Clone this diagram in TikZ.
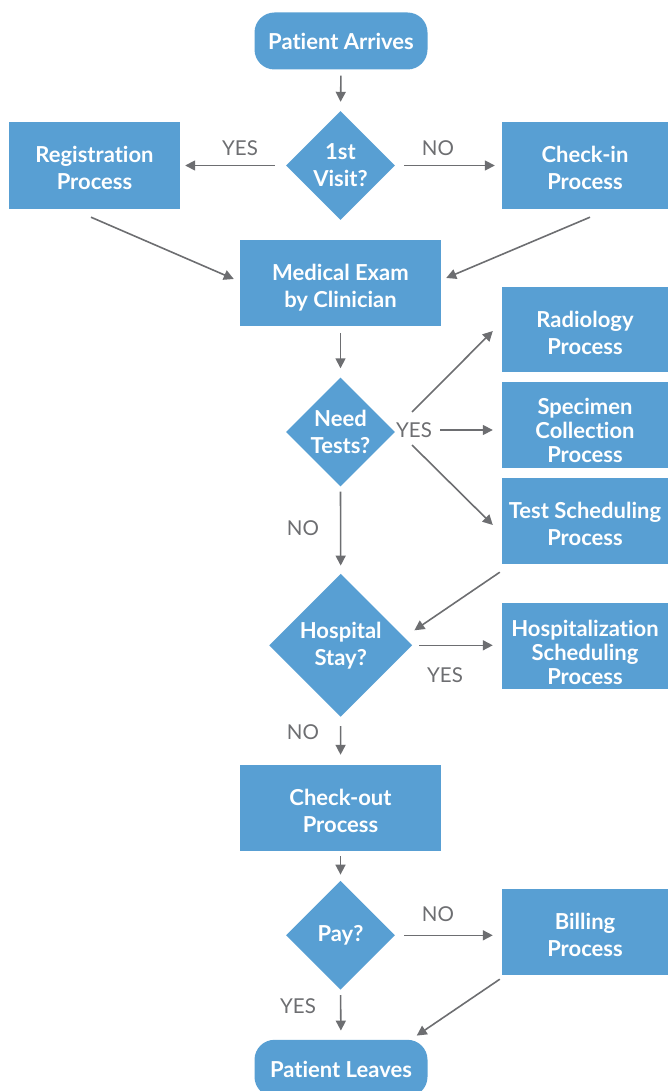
\documentclass[tikz,border=0pt]{standalone}
\usepackage{fontspec}
\setmainfont{Lato}[Ligatures=NoCommon]
\usetikzlibrary{shapes.geometric,arrows.meta,calc}
\definecolor{boxblue}{HTML}{589FD3}
\definecolor{linegray}{HTML}{6D6E71}
\begin{document}
\begin{tikzpicture}[x=1pt,y=-1pt,
  boxfont/.style={font=\bfseries\fontsize{22}{27}\selectfont},
  boxfontthree/.style={font=\bfseries\fontsize{22}{24}\selectfont, text height=81pt, text depth=5pt},
  proc/.style={fill=boxblue, text=white, boxfont, align=center, inner sep=0pt,
    minimum width=166pt, minimum height=86pt, text height=54pt, text depth=5pt},
  term/.style={proc, rounded corners=20pt, minimum width=173pt, minimum height=57pt,
    text height=20pt, text depth=2pt},
  dec/.style={diamond, aspect=1, fill=boxblue, text=white, boxfont, align=center, inner sep=0pt},
  arr/.style={draw=linegray, line width=1.6pt, -{Triangle[length=10pt,width=10pt]}},
  lab/.style={text=linegray, font=\fontsize{20.5}{22}\selectfont, inner sep=0pt}]
\useasboundingbox (0,0) rectangle (668,1091);

% nodes
\node[term] (start) at (341,41) {Patient Arrives};
\node[dec, minimum size=109pt] (d1) at (340.5,165.5) {1st\\Visit?};
\node[proc, minimum width=171pt, minimum height=87pt] (reg) at (94.5,165.5) {Registration\\Process};
\node[proc, minimum height=87pt] (chk) at (585,165.5) {Check-in\\Process};
\node[proc, minimum width=201pt] (exam) at (340.5,283) {Medical Exam\\by Clinician};
\node[dec, minimum size=109pt] (d2) at (340.5,432) {Need\\Tests?};
\node[proc, minimum height=85pt] (rad) at (585,329.5) {Radiology\\Process};
\node[proc, boxfontthree, minimum height=85pt] (spec) at (585,424.5) {Specimen\\Collection\\Process};
\node[proc] (tsch) at (585,521) {Test Scheduling\\Process};
\node[dec, minimum size=143pt] (d3) at (340.7,645.3) {Hospital\\Stay?};
\node[proc, boxfontthree] (hosp) at (585,646) {Hospitalization\\Scheduling\\Process};
\node[proc, minimum width=201pt] (out) at (340.5,808) {Check-out\\Process};
\node[dec, minimum size=109pt] (d4) at (340.5,935.3) {Pay?};
\node[proc] (bill) at (585,932) {Billing\\Process};
\node[term] (end) at (341,1068.3) {Patient Leaves};

% labels
\node[lab] (yes1) at (240,148) {YES};
\node[lab] (no1) at (438,148) {NO};
\node[lab] (yes2) at (414,430) {YES};
\node[lab] (no2) at (303,528) {NO};
\node[lab] (yes3) at (445,675) {YES};
\node[lab] (no3) at (303,732) {NO};
\node[lab] (no4) at (438,914) {NO};
\node[lab] (yes4) at (298,1006) {YES};

% connectors
\draw[arr, shorten <=6pt, shorten >=9pt] (start.south) -- (d1.north);
\draw[arr, shorten <=11pt, shorten >=5pt] (d1.west) -- (d1.west -| reg.east);
\draw[arr, shorten <=9pt, shorten >=7pt] (d1.east) -- (d1.east -| chk.west);
\draw[arr] ($(reg.south)+(-3.5,8)$) -- ($(exam.west)+(-6,-4)$);
\draw[arr] ($(chk.south)+(5,8)$) -- ($(exam.east)+(5,-5)$);
\draw[arr, shorten <=7pt, shorten >=9pt] (exam.south) -- (d2.north);
\draw[arr] ($(yes2)+(-2,-18)$) -- ($(rad.west)+(-9,1.5)$);
\draw[arr] ($(yes2)+(26,0)$) -- ($(yes2 -| spec.west)+(-9,0)$);
\draw[arr] ($(yes2)+(-2,15)$) -- ($(tsch.west)+(-9,4)$);
\draw[arr, shorten <=5pt, shorten >=8pt] (d2.south) -- (d3.north);
\draw[arr] ($(tsch.south west)+(-2,8)$) -- ($(d3.east)+(2,-15)$);
\draw[arr, shorten <=7pt, shorten >=9pt] (d3.east) -- (d3.east -| hosp.west);
\draw[arr, shorten <=9pt, shorten >=10pt] (d3.south) -- (out.north);
\draw[arr, shorten <=5pt, shorten >=6pt] (out.south) -- (d4.north);
\draw[arr, shorten <=9pt, shorten >=9pt] (d4.east) -- (d4.east -| bill.west);
\draw[arr, shorten <=5pt, shorten >=9pt] (d4.south) -- (end.north);
\draw[arr] ($(bill.south west)+(-2,4)$) -- ($(end.north east)+(-11,-4)$);
\end{tikzpicture}
\end{document}
